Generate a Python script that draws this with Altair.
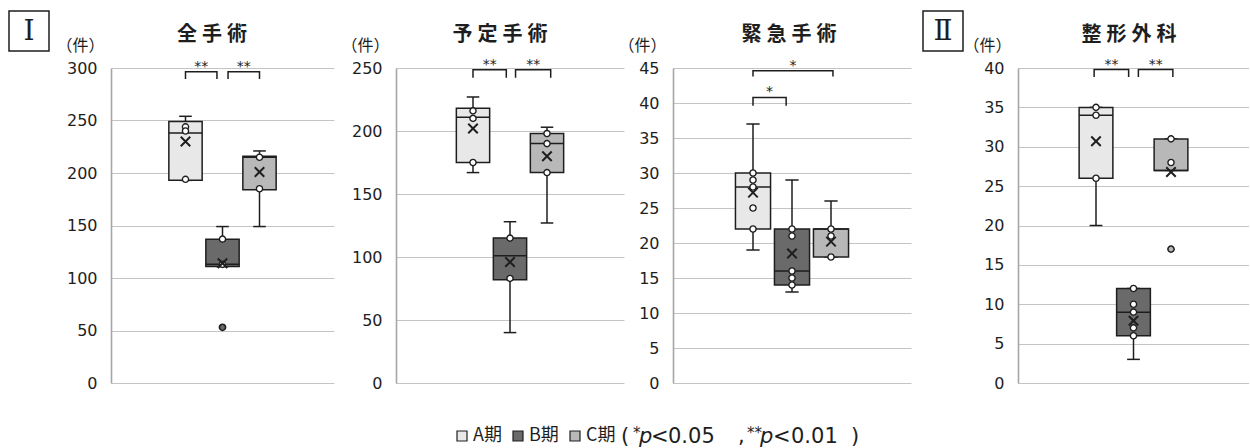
import altair as alt
import pandas as pd

# ---------------------------------------------------------------- data
GROUPS = ["A期", "B期", "C期"]
FILLS = ["#e8e8e8", "#6a6a6a", "#b8b8b8"]
UNIT = "（件）"

# 全手術
ALL_TICKS = [0, 50, 100, 150, 200, 250, 300]
ALL_LO = [193, 111, 149]
ALL_Q1 = [193, 111, 184]
ALL_MED = [238, 113, 215]
ALL_Q3 = [249, 137, 216]
ALL_HI = [254, 149, 221]
ALL_MEAN = [230, 114, 201]
ALL_PTS = [[244, 240, 194], [137, 113], [215, 185]]
ALL_OUT = [[], [53], []]
ALL_BR_FROM = [1.0, 2.15]
ALL_BR_TO = [1.85, 3.0]
ALL_BR_Y = [296.5, 296.5]
ALL_BR_END = [289.5, 289.5]
ALL_BR_MARK = ["**", "**"]

# 予定手術
ELE_TICKS = [0, 50, 100, 150, 200, 250]
ELE_LO = [167, 40, 127]
ELE_Q1 = [175, 82, 167]
ELE_MED = [211, 101, 190]
ELE_Q3 = [218, 115, 198]
ELE_HI = [227, 128, 203]
ELE_MEAN = [202, 96, 180]
ELE_PTS = [[216, 210, 175], [115, 83], [198, 190, 167]]
ELE_OUT = [[], [], []]
ELE_BR_FROM = [1.0, 2.15]
ELE_BR_TO = [1.9, 3.1]
ELE_BR_Y = [248.6, 248.6]
ELE_BR_END = [242.3, 242.3]
ELE_BR_MARK = ["**", "**"]

# 緊急手術
EMG_TICKS = [0, 5, 10, 15, 20, 25, 30, 35, 40, 45]
EMG_LO = [19, 13, 18]
EMG_Q1 = [22, 14, 18]
EMG_MED = [28, 16, 22]
EMG_Q3 = [30, 22, 22]
EMG_HI = [37, 29, 26]
EMG_MEAN = [27.2, 18.5, 20.2]
EMG_PTS = [[30, 29, 28, 25, 22], [22, 21, 16, 15, 14], [22, 21, 18]]
EMG_OUT = [[], [], []]
EMG_BR_FROM = [1.0, 1.0]
EMG_BR_TO = [3.05, 1.85]
EMG_BR_Y = [44.6, 40.8]
EMG_BR_END = [43.8, 39.6]
EMG_BR_MARK = ["*", "*"]

# 整形外科
ORT_TICKS = [0, 5, 10, 15, 20, 25, 30, 35, 40]
ORT_LO = [20, 3, 27]
ORT_Q1 = [26, 6, 27]
ORT_MED = [34, 9, 27]
ORT_Q3 = [35, 12, 31]
ORT_HI = [35, 12, 31]
ORT_MEAN = [30.7, 7.9, 26.8]
ORT_PTS = [[35, 34, 26], [12, 10, 9, 7, 6], [31, 28]]
ORT_OUT = [[], [], [17]]
ORT_BR_FROM = [0.95, 2.13]
ORT_BR_TO = [1.87, 3.05]
ORT_BR_Y = [39.8, 39.8]
ORT_BR_END = [38.85, 38.85]
ORT_BR_MARK = ["**", "**"]

# ---------------------------------------------------------------- style
HEIGHT = 315
FONT_CJK = "Noto Sans CJK JP"
FONT_NUM = "DejaVu Sans"
INK = "#1e1e1e"
GRID = "#c4c4c4"

LEGEND = alt.Legend(
    orient="none", legendX=342, legendY=359, direction="horizontal",
    title=None, symbolType="square", symbolSize=100,
    symbolStrokeColor=INK, symbolStrokeWidth=1.2,
    labelFont=FONT_CJK, labelFontSize=18, labelColor=INK,
    labelOffset=2, columnPadding=7, padding=0,
)


def panel(title, title_x, ticks, lo, q1, med, q3, hi, mean, pts, out,
          br_from, br_to, br_y, br_end, br_mark, width, step):
    half = width / (2 * step)
    xs = alt.Scale(domain=[2 - half, 2 + half], nice=False, zero=False)
    ys = alt.Scale(domain=[0, ticks[-1]], nice=False)
    ax = alt.Axis(
        values=ticks, title=UNIT, titleAngle=0, titleX=-31, titleY=-23,
        titleAlign="center", titleBaseline="middle", titleFont=FONT_CJK,
        titleFontSize=16, titleFontWeight="normal", titleColor=INK,
        labelFont=FONT_NUM, labelFontSize=16, labelColor=INK,
        labelPadding=14, ticks=False, grid=True, gridColor=GRID,
        gridWidth=1.2, domainColor="#a6a6a6", domainWidth=1.6,
    )

    def X(f):
        return alt.X(f, type="quantitative", scale=xs, axis=None)

    def Y(f):
        return alt.Y(f, type="quantitative", scale=ys, axis=ax)

    stats = pd.DataFrame({
        "group": GROUPS, "pos": [1, 2, 3], "lo": lo, "q1": q1,
        "med": med, "q3": q3, "hi": hi, "mean": mean,
    })
    base = alt.Chart(stats).transform_calculate(
        left="datum.pos - 0.45", right="datum.pos + 0.45",
        capl="datum.pos - 0.17", capr="datum.pos + 0.17",
    )

    whisk_lo = base.mark_rule(color=INK, strokeWidth=1.5).encode(
        x=X("pos"), y=Y("lo"), y2="q1:Q")
    whisk_hi = base.mark_rule(color=INK, strokeWidth=1.5).encode(
        x=X("pos"), y=Y("q3"), y2="hi:Q")
    cap_lo = base.mark_rule(color=INK, strokeWidth=1.5).encode(
        x=X("capl"), x2="capr:Q", y=Y("lo"))
    cap_hi = base.mark_rule(color=INK, strokeWidth=1.5).encode(
        x=X("capl"), x2="capr:Q", y=Y("hi"))
    box = base.mark_bar(stroke=INK, strokeWidth=1.5, opacity=1).encode(
        x=X("left"), x2="right:Q", y=Y("q1"), y2="q3:Q",
        color=alt.Color("group:N", scale=alt.Scale(domain=GROUPS, range=FILLS),
                        legend=LEGEND),
    )
    median = base.mark_rule(color=INK, strokeWidth=1.5).encode(
        x=X("left"), x2="right:Q", y=Y("med"))

    pts_rows = [{"group": GROUPS[i], "pos": i + 1, "v": v}
                for i, vals in enumerate(pts) for v in vals]
    points = alt.Chart(pd.DataFrame(pts_rows)).mark_point(
        shape="circle", filled=True, fill="white", stroke=INK,
        strokeWidth=1.4, size=38, opacity=1,
    ).encode(x=X("pos"), y=Y("v"))

    layers = [whisk_lo, whisk_hi, cap_lo, cap_hi, box, median, points]

    out_rows = [{"group": GROUPS[i], "pos": i + 1, "v": v}
                for i, vals in enumerate(out) for v in vals]
    if out_rows:
        outliers = alt.Chart(pd.DataFrame(out_rows)).mark_point(
            shape="circle", filled=True, stroke=INK, strokeWidth=1.6,
            size=38, opacity=1,
        ).encode(
            x=X("pos"), y=Y("v"),
            fill=alt.Fill("group:N", scale=alt.Scale(domain=GROUPS, range=FILLS),
                          legend=None),
        )
        layers.append(outliers)

    means = base.mark_point(
        shape="M-1,-1L1,1M-1,1L1,-1", filled=False, stroke=INK,
        strokeWidth=2, size=90, opacity=1,
    ).encode(x=X("pos"), y=Y("mean"))
    layers.append(means)

    # significance brackets
    br_rows = []
    for k in range(len(br_from)):
        for o, (bx, by) in enumerate([(br_from[k], br_end[k]), (br_from[k], br_y[k]),
                                      (br_to[k], br_y[k]), (br_to[k], br_end[k])]):
            br_rows.append({"bid": k, "ord": o, "bx": bx, "by": by})
    brackets = alt.Chart(pd.DataFrame(br_rows)).mark_line(
        color=INK, strokeWidth=1.5).encode(
        x=X("bx"), y=Y("by"), detail="bid:N", order="ord:Q")
    star_df = pd.DataFrame({
        "sx": [(a + b) / 2 for a, b in zip(br_from, br_to)],
        "sy": br_y, "mark": br_mark,
    })
    stars = alt.Chart(star_df).mark_text(
        font=FONT_NUM, fontSize=14, color=INK, baseline="alphabetic", dy=-1,
    ).encode(x=X("sx"), y=Y("sy"), text="mark:N")
    layers += [brackets, stars]

    heading = alt.Chart(pd.DataFrame({"t": [title]})).mark_text(
        font=FONT_CJK, fontSize=20, fontWeight="bold", color=INK,
        align="center", baseline="middle",
    ).encode(x=alt.value(title_x), y=alt.value(-33), text="t:N")
    layers.append(heading)

    return layers


def roman(label, x0, y0):
    frame = alt.Chart(pd.DataFrame({"t": [label]})).mark_rect(
        fill="white", stroke=INK, strokeWidth=1.5,
    ).encode(x=alt.value(x0), x2=alt.value(x0 + 40),
             y=alt.value(y0), y2=alt.value(y0 + 40))
    glyph = alt.Chart(pd.DataFrame({"t": [label]})).mark_text(
        font="DejaVu Serif", fontSize=28, color=INK, align="center",
        baseline="middle",
    ).encode(x=alt.value(x0 + 20), y=alt.value(y0 + 21), text="t:N")
    return [frame, glyph]


def note(txt, x, italic=False, size=21, dy=0):
    return alt.Chart(pd.DataFrame({"t": [txt]})).mark_text(
        font=FONT_NUM, fontSize=size, color=INK, align="left",
        baseline="middle", fontStyle="italic" if italic else "normal", dy=dy,
    ).encode(x=alt.value(x), y=alt.value(369), text="t:N")


def spacer(w):
    return alt.Chart(pd.DataFrame({"a": [0]})).mark_rect(opacity=0).encode(
        x=alt.value(0), x2=alt.value(w), y=alt.value(0), y2=alt.value(HEIGHT),
    ).properties(width=w, height=HEIGHT)


p1_layers = panel("全\u2005手\u2005術", 101, ALL_TICKS, ALL_LO, ALL_Q1, ALL_MED,
                  ALL_Q3, ALL_HI, ALL_MEAN, ALL_PTS, ALL_OUT, ALL_BR_FROM,
                  ALL_BR_TO, ALL_BR_Y, ALL_BR_END, ALL_BR_MARK, 223, 37)
p1_layers += roman("Ⅰ", -102, -57)
# significance note beside the legend
p1_layers += [
    note("(", 510), note("*", 522, size=15, dy=-4), note("p", 528, italic=True),
    note("<", 540), note("0.05", 557), note(",", 627),
    note("**", 636, size=15, dy=-4), note("p", 649, italic=True),
    note("<", 662), note("0.01", 680), note(")", 740),
]
p1 = alt.layer(*p1_layers).properties(width=223, height=HEIGHT)

p2 = alt.layer(*panel("予\u2005定\u2005手\u2005術", 104, ELE_TICKS, ELE_LO, ELE_Q1,
                      ELE_MED, ELE_Q3, ELE_HI, ELE_MEAN, ELE_PTS, ELE_OUT,
                      ELE_BR_FROM, ELE_BR_TO, ELE_BR_Y, ELE_BR_END,
                      ELE_BR_MARK, 228, 37)).properties(width=228, height=HEIGHT)

p3 = alt.layer(*panel("緊\u2005急\u2005手\u2005術", 116, EMG_TICKS, EMG_LO, EMG_Q1,
                      EMG_MED, EMG_Q3, EMG_HI, EMG_MEAN, EMG_PTS, EMG_OUT,
                      EMG_BR_FROM, EMG_BR_TO, EMG_BR_Y, EMG_BR_END,
                      EMG_BR_MARK, 238, 39)).properties(width=238, height=HEIGHT)

p4_layers = panel("整\u2005形\u2005外\u2005科", 111, ORT_TICKS, ORT_LO, ORT_Q1,
                  ORT_MED, ORT_Q3, ORT_HI, ORT_MEAN, ORT_PTS, ORT_OUT,
                  ORT_BR_FROM, ORT_BR_TO, ORT_BR_Y, ORT_BR_END, ORT_BR_MARK,
                  231, 37.5)
p4_layers += roman("Ⅱ", -95, -57)
p4 = alt.layer(*p4_layers).properties(width=231, height=HEIGHT)

chart = alt.hconcat(
    p1, spacer(62), p2, spacer(49), p3, spacer(107), p4,
    spacing=0, bounds="flush",
).properties(
    padding={"left": 8, "top": 10, "right": 0, "bottom": 0},
    background="white",
).configure_view(strokeWidth=0)

chart.save("out.html", embed_options={"renderer": "svg", "actions": False})
